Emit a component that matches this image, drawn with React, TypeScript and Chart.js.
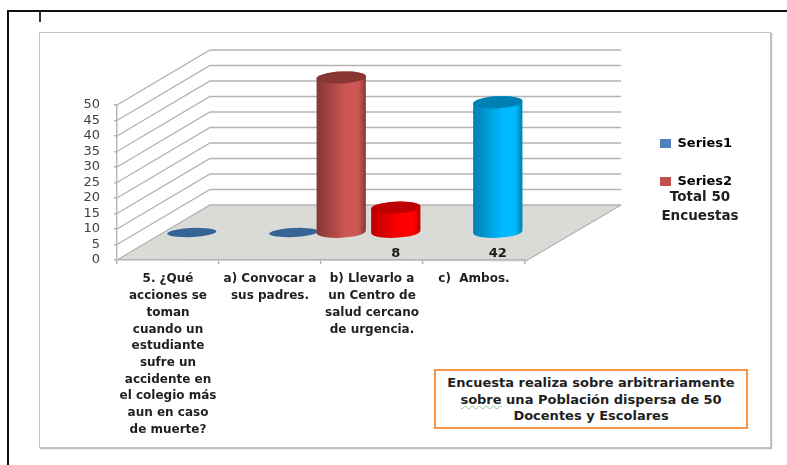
import React, { useEffect, useRef } from "react";
import { Chart, registerables } from "chart.js";

Chart.register(...registerables);

const categories: string[][] = [
  ["5. ¿Qué", "acciones se", "toman", "cuando un", "estudiante", "sufre un", "accidente en", "el colegio más", "aun en caso", "de muerte?"],
  ["a) Convocar a", "sus padres."],
  ["b) Llevarlo a", "un Centro de", "salud cercano", "de urgencia."],
  ["c)  Ambos."],
];
const series1Values: (number | null)[] = [0, 0, 8, 42];
const series2Values: (number | null)[] = [null, 50, null, null];
const series1Colors = ["#376497", "#376497", "#FF0000", "#00B9FF"];
const series2Colors = ["#CD5755", "#CD5755", "#CD5755", "#CD5755"];
const series1Edges = ["#2B4F78", "#2B4F78", "#BE0000", "#0080B2"];
const series2Edges = ["#873634", "#873634", "#873634", "#873634"];
const legendNames = ["Series1", "Series2"];
const legendColors = ["#4F81BD", "#C0504D"];
const legendNote = ["Total 50", "Encuestas"];
const noteLines = ["Encuesta realiza sobre arbitrariamente", "sobre una Población dispersa de 50", "Docentes y Escolares"];
const yMax = 50;
const yStep = 5;

const BOLD = "DejaVu Sans";
const DX = 93;
const DY = 55;

const scene = {
  id: "scene",
  afterLayout(chart: any) {
    const l = chart.legend;
    if (l) {
      l.left = 635;
      l.right = 770;
      l.top = 112;
      l.bottom = 230;
    }
  },
  beforeDraw(chart: any) {
    const { ctx } = chart;
    const x = chart.scales.x;
    const y = chart.scales.y;
    const y0 = y.getPixelForValue(0);
    ctx.save();
    ctx.fillStyle = "#D9DCD6";
    ctx.beginPath();
    ctx.moveTo(x.left, y0);
    ctx.lineTo(x.left + DX, y0 - DY);
    ctx.lineTo(x.right + DX + 3, y0 - DY);
    ctx.lineTo(x.right, y0 + 1.5);
    ctx.closePath();
    ctx.fill();
    ctx.strokeStyle = "#B4B4B4";
    ctx.lineWidth = 1.4;
    for (let v = 0; v <= yMax; v += yStep) {
      const g = y.getPixelForValue(v);
      ctx.beginPath();
      ctx.moveTo(x.left, g);
      ctx.lineTo(x.left + DX, g - DY);
      ctx.lineTo(x.right + DX + 3, g - DY);
      ctx.stroke();
    }
    ctx.beginPath();
    ctx.moveTo(x.right + DX + 3, y0 - DY);
    ctx.lineTo(x.right, y0 + 1.5);
    ctx.stroke();
    ctx.restore();
  },
  beforeDatasetDraw() {
    return false;
  },
  afterDatasetsDraw(chart: any) {
    const { ctx } = chart;
    const marks: any[] = [];
    chart.data.datasets.forEach((ds: any, di: number) => {
      chart.getDatasetMeta(di).data.forEach((el: any, i: number) => {
        if (ds.data[i] === null) return;
        marks.push({ el, value: ds.data[i], fill: ds.backgroundColor[i], edge: ds.borderColor[i], di });
      });
    });
    marks.sort((a, b) => a.el.x - b.el.x);
    const tilt = -0.05;
    for (const m of marks) {
      const cx = m.el.x + DX / 2 + 1;
      const rx = m.el.width / 2;
      const bottom = m.el.base - DY / 2;
      const top = m.el.y - DY / 2;
      const ry = m.value > 0 ? 6 : 4.5;
      ctx.save();
      if (m.value > 0) {
        const g = ctx.createLinearGradient(cx - rx, 0, cx + rx, 0);
        g.addColorStop(0, m.edge);
        g.addColorStop(0.6, m.fill);
        g.addColorStop(0.85, m.fill);
        g.addColorStop(1, m.edge);
        ctx.fillStyle = g;
        ctx.beginPath();
        ctx.ellipse(cx, top, rx, ry, tilt, Math.PI, 0, false);
        ctx.lineTo(cx + rx, bottom - 1);
        ctx.ellipse(cx, bottom, rx, ry, tilt, 0, Math.PI, false);
        ctx.closePath();
        ctx.fill();
      }
      ctx.fillStyle = m.edge;
      if (m.value === 0) ctx.fillStyle = m.fill;
      ctx.beginPath();
      ctx.ellipse(cx, top, rx, ry, tilt, 0, Math.PI * 2);
      ctx.fill();
      ctx.restore();
      if (m.di === 0 && m.value > 0) {
        ctx.save();
        ctx.fillStyle = "#1A1A1A";
        ctx.font = `bold 13px "${BOLD}"`;
        ctx.textAlign = "center";
        ctx.textBaseline = "middle";
        ctx.fillText(String(m.value), cx, m.el.base - 6);
        ctx.restore();
      }
    }
  },
  afterDraw(chart: any) {
    const { ctx } = chart;
    ctx.save();
    ctx.fillStyle = "#1F1F1F";
    ctx.font = `bold 13.5px "${BOLD}"`;
    ctx.textAlign = "center";
    ctx.textBaseline = "middle";
    ctx.fillText(legendNote[0], 700, 197);
    ctx.fillText(legendNote[1], 700, 216);
    ctx.restore();
  },
};

export default function App() {
  const ref = useRef<HTMLCanvasElement>(null);
  useEffect(() => {
    const chart = new Chart(ref.current as HTMLCanvasElement, {
      type: "bar",
      data: {
        labels: categories as any,
        datasets: [
          { label: legendNames[0], data: series1Values, backgroundColor: series1Colors, borderColor: series1Edges, categoryPercentage: 0.93, barPercentage: 1.04 },
          { label: legendNames[1], data: series2Values, backgroundColor: series2Colors, borderColor: series2Edges, categoryPercentage: 0.93, barPercentage: 1.04 },
        ] as any,
      },
      options: {
        responsive: false,
        animation: false,
        layout: { autoPadding: false, padding: { left: 0, top: 105, right: 262, bottom: 0 } },
        plugins: {
          title: { display: false },
          tooltip: { enabled: false },
          legend: {
            position: "chartArea",
            align: "start",
            labels: {
              boxWidth: 11,
              boxHeight: 9,
              padding: 25,
              color: "#1F1F1F",
              font: { family: BOLD, size: 13, weight: "bold" },
              generateLabels: () =>
                legendNames.map((n, i) => ({ text: n, fillStyle: legendColors[i], strokeStyle: legendColors[i], lineWidth: 0, datasetIndex: i })),
            },
          } as any,
        },
        scales: {
          x: {
            afterFit: (s: any) => { s.height = 205; },
            grid: { drawOnChartArea: false, tickLength: 4, color: "#B4B4B4", lineWidth: 1.4 },
            border: { color: "#B4B4B4", width: 1.4 },
            ticks: {
              autoSkip: false,
              maxRotation: 0,
              minRotation: 0,
              padding: 7,
              color: "#1F1F1F",
              font: { family: BOLD, size: 12, weight: "bold", lineHeight: "16.7px" },
            },
          },
          y: {
            min: 0,
            max: yMax,
            afterFit: (s: any) => { s.width = 117; },
            grid: { drawOnChartArea: false, tickLength: 3, color: "#B4B4B4", lineWidth: 1.4 },
            border: { color: "#B4B4B4", width: 1.4 },
            ticks: {
              stepSize: yStep,
              autoSkip: false,
              padding: 14,
              color: "#404040",
              font: { family: "DejaVu Sans", size: 13 },
            },
          },
        } as any,
      },
      plugins: [scene as any],
    });
    return () => chart.destroy();
  }, []);

  return (
    <div style={{ position: "fixed", left: 0, top: 0, width: 787, height: 465, overflow: "hidden", background: "#fff", filter: "blur(0.4px)" }}>
      <div style={{ position: "absolute", left: 7, top: 10, width: 780, height: 2, background: "#111" }} />
      <div style={{ position: "absolute", left: 7, top: 10, width: 2, height: 455, background: "#111" }} />
      <div style={{ position: "absolute", left: 39, top: 12, width: 2, height: 10, background: "#333" }} />
      <div style={{ position: "absolute", left: 39, top: 32, width: 730, height: 414, border: "1.5px solid #C4C4C4", boxShadow: "1px 1px 1px #BBB" }} />
      <canvas ref={ref} width={787} height={465} style={{ position: "absolute", left: 0, top: 0, display: "block" }} />
      <div
        style={{
          position: "absolute",
          left: 434,
          top: 369,
          width: 310,
          height: 52,
          border: "2px solid #F79646",
          fontFamily: BOLD,
          fontWeight: "bold",
          fontSize: 13,
          lineHeight: "16.5px",
          textAlign: "center",
          color: "#1F1F1F",
          paddingTop: 4,
          background: "#fff",
          boxSizing: "content-box",
        }}
      >
        {noteLines.map((line, i) => (
          <div key={i} style={{ whiteSpace: "nowrap" }}>
            {i === 1 ? (
              <>
                <span style={{ textDecoration: "underline wavy #8CC98C 1px" }}>{line.split(" ")[0]}</span>
                {" " + line.split(" ").slice(1).join(" ")}
              </>
            ) : (
              line
            )}
          </div>
        ))}
      </div>
    </div>
  );
}
